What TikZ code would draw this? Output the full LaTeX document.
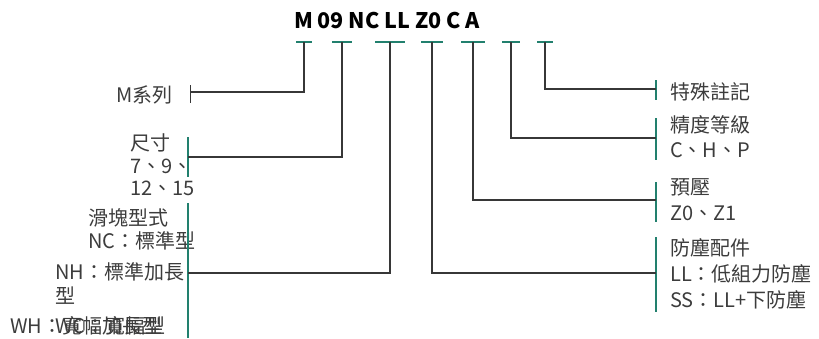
\documentclass[tikz,border=0pt]{standalone}
\usepackage{fontspec}
\newfontfamily\cjk{Noto Sans CJK TC}
\usetikzlibrary{positioning}
\definecolor{codeteal}{RGB}{34,128,110}
\definecolor{linegray}{RGB}{55,55,55}
\definecolor{textgray}{RGB}{60,60,60}

\begin{document}
\begin{tikzpicture}[x=1pt, y=-1pt,
    lbl/.style={font=\cjk\fontsize{20}{#1}\selectfont, text=textgray, inner sep=0pt, align=left},
    lbl/.default=24,
    codebar/.style={line width=2.8pt, codeteal},
    tickbar/.style={line width=2.4pt, codeteal},
    conn/.style={line width=1.4pt, linegray}
  ]
    \useasboundingbox (0,0) rectangle (819,338);

    % code string
    \node[font=\cjk\bfseries\fontsize{21.5}{24}\selectfont, inner sep=0pt] (code) at (387,20) {M 09 NC LL Z0 C A};

    % short bars under each part of the code
    \foreach \x/\w/\n in {304/8/cM, 342/10/cSize, 390/15/cBlock, 432/11/cSeal, 473/12/cPre, 511/9/cGrade, 545/8/cSpec}{
        \draw[codebar] (\x-\w,42) -- (\x+\w,42);
        \coordinate (\n) at (\x,42);
    }

    % labels on the left (base = last line)
    \node[lbl, anchor=base east] (series) at (173,102.5) {M系列};
    \node[lbl=22.5, anchor=base west] (size) at (130,195.5) {尺寸\\7、9、\\12、15};
    \node[lbl=23, anchor=base west] (block) at (88,248.5) {滑塊型式\\NC：標準型};
    \node[lbl, anchor=base west] (blockNH) at (55,303.5) {NH：標準加長\\型};
    \node[lbl, anchor=base west] (blockWC) at (55,333.5) {WC：寬幅型};
    \node[lbl, anchor=base west] (blockWH) at (10,333.5) {WH：寬幅加長型};

    % labels on the right
    \node[lbl, anchor=base west] (spec) at (670,99.5) {特殊註記};
    \node[lbl=25, anchor=base west] (grade) at (670,157.5) {精度等級\\C、H、P};
    \node[lbl=26, anchor=base west] (pre) at (670,220.5) {預壓\\Z0、Z1};
    \node[lbl=26, anchor=base west] (seal) at (670,307.5) {防塵配件\\LL：低組力防塵\\SS：LL+下防塵};

    % ticks in front of the labels
    \draw[line width=1pt, linegray] (190,85) -- (190,103);
    \draw[tickbar] (188,137) -- (188,177);
    \draw[tickbar] (188,203) -- (188,338);
    \draw[tickbar] (656,80) -- (656,100);
    \draw[tickbar] (656,118) -- (656,160);
    \draw[tickbar] (656,182) -- (656,222);
    \draw[tickbar] (656,237) -- (656,312);

    \coordinate (tSeries) at (190,92);
    \coordinate (tSize) at (188,157);
    \coordinate (tBlock) at (188,273);
    \coordinate (tSpec) at (656,89);
    \coordinate (tGrade) at (656,138);
    \coordinate (tPre) at (656,200);
    \coordinate (tSeal) at (656,273);

    % connectors
    \draw[conn] (cM) |- (tSeries);
    \draw[conn] (cSize) |- (tSize);
    \draw[conn] (cBlock) |- (tBlock);
    \draw[conn] (cSeal) |- (tSeal);
    \draw[conn] (cPre) |- (tPre);
    \draw[conn] (cGrade) |- (tGrade);
    \draw[conn] (cSpec) |- (tSpec);
\end{tikzpicture}
\end{document}
